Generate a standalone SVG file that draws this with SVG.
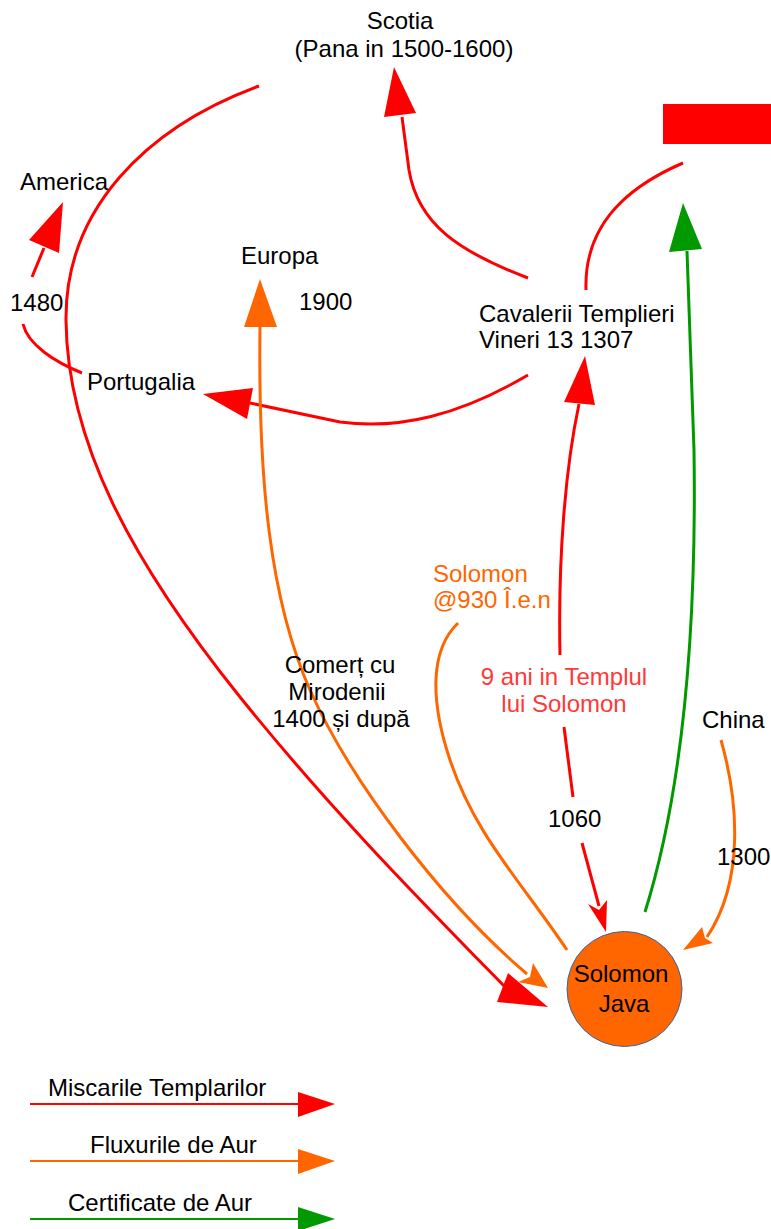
<svg xmlns="http://www.w3.org/2000/svg" width="771" height="1229" viewBox="0 0 771 1229">
<style>
text{font-family:"Liberation Sans",Arial,sans-serif;font-size:24px;fill:#000}
.c{text-anchor:middle}
.or{fill:#FF6600}
.lr{fill:#FF3838}
.ln{fill:none;stroke-width:3}
.r{stroke:#FF0000}
.o{stroke:#FF6600}
.g{stroke:#009900}
.hr{fill:#FF0000}
.ho{fill:#FF6600}
.hg{fill:#009900}
.lg{fill:none;stroke-width:2}
</style>
<rect width="771" height="1229" fill="#fff"/>
<g id="connectors">
<path class="ln r" d="M528,278 C460,252 418,225 409,170 L402,117"/>
<polygon class="hr" points="394,67 384,117 416,113"/>
<path class="ln r" d="M586,290 C584,230 620,190 683,163"/>
<path class="ln r" d="M528,375 C460,415 400,430 340,422 L250,403"/>
<polygon class="hr" points="203,394 253,388 247,419"/>
<path class="ln r" d="M82,373 C55,362 28,345 23,324"/>
<path class="ln r" d="M32,277 L44,248"/>
<polygon class="hr" points="63,202 29,240 59,253"/>
<path class="ln r" d="M259,86 C145,128 65,210 66,320 C67,440 130,560 240,697 C330,809 420,900 505,987"/>
<polygon class="hr" points="548,1007 497,1002 508,973"/>
<path class="ln o" d="M260,327 C258,480 270,600 310,690 C350,780 440,900 527,974"/>
<polygon class="ho" points="260,279 244,327 277,327"/>
<polygon class="ho" points="548,988 533,963 530,977 518,982"/>
<path class="ln o" d="M458,623 C430,650 430,700 450,760 C475,835 520,880 567,950"/>
<path class="ln r" d="M560,655 C558,560 565,470 579,404"/>
<polygon class="hr" points="585,356 564,402 595,405"/>
<path class="ln r" d="M564,727 L573,797"/>
<path class="ln r" d="M582,843 L599,906"/>
<polygon class="hr" points="606,932 588,904 599,910 607,900"/>
<path class="ln g" d="M645,912 C680,800 697,650 694,450 L687,251"/>
<polygon class="hg" points="683,203 669,252 702,249"/>
<path class="ln o" d="M721,740 C738,800 745,880 707,937"/>
<polygon class="ho" points="683,950 702,927 705,938 713,943"/>
</g>
<g id="scotia"><text class="c" x="400" y="29">Scotia</text><text class="c" x="404" y="57">(Pana in 1500-1600)</text></g>
<g id="redbox"><rect x="663" y="104" width="108" height="40" fill="#FF0000"/></g>
<g id="america"><text x="20" y="190">America</text></g>
<g id="label1480"><text x="10" y="311">1480</text></g>
<g id="portugalia"><text x="87" y="390">Portugalia</text></g>
<g id="europa"><text x="241" y="264">Europa</text></g>
<g id="label1900"><text x="299" y="310">1900</text></g>
<g id="cavalerii"><text x="479" y="322">Cavalerii Templieri</text><text x="479" y="348">Vineri 13 1307</text></g>
<g id="solomon930"><text class="or" x="433" y="582">Solomon</text><text class="or" x="433" y="608">@930 Î.e.n</text></g>
<g id="templul"><text class="c lr" x="564" y="685">9 ani in Templul</text><text class="c lr" x="564" y="712">lui Solomon</text></g>
<g id="comert"><text class="c" x="340" y="673">Comerț cu</text><text class="c" x="337" y="700">Mirodenii</text><text class="c" x="341" y="727">1400 și după</text></g>
<g id="china"><text x="702" y="728">China</text></g>
<g id="label1060"><text x="548" y="827">1060</text></g>
<g id="label1300"><text x="717" y="865">1300</text></g>
<g id="solomonjava">
<circle cx="624.5" cy="989" r="57.5" fill="#FF6600" stroke="#3465A4" stroke-width="1"/>
<text class="c" x="621" y="982">Solomon</text><text class="c" x="624" y="1012">Java</text>
</g>
<g id="legend">
<line class="lg r" x1="30" y1="1104" x2="300" y2="1104"/>
<polygon class="hr" points="298,1092 335,1104 298,1117"/>
<text x="48" y="1096">Miscarile Templarilor</text>
<line class="lg o" x1="30" y1="1161" x2="300" y2="1161"/>
<polygon class="ho" points="298,1149 335,1161 298,1174"/>
<text x="90" y="1153">Fluxurile de Aur</text>
<line class="lg g" x1="30" y1="1219" x2="300" y2="1219"/>
<polygon class="hg" points="298,1207 335,1219 298,1231"/>
<text x="68" y="1211">Certificate de Aur</text>
</g>
</svg>
